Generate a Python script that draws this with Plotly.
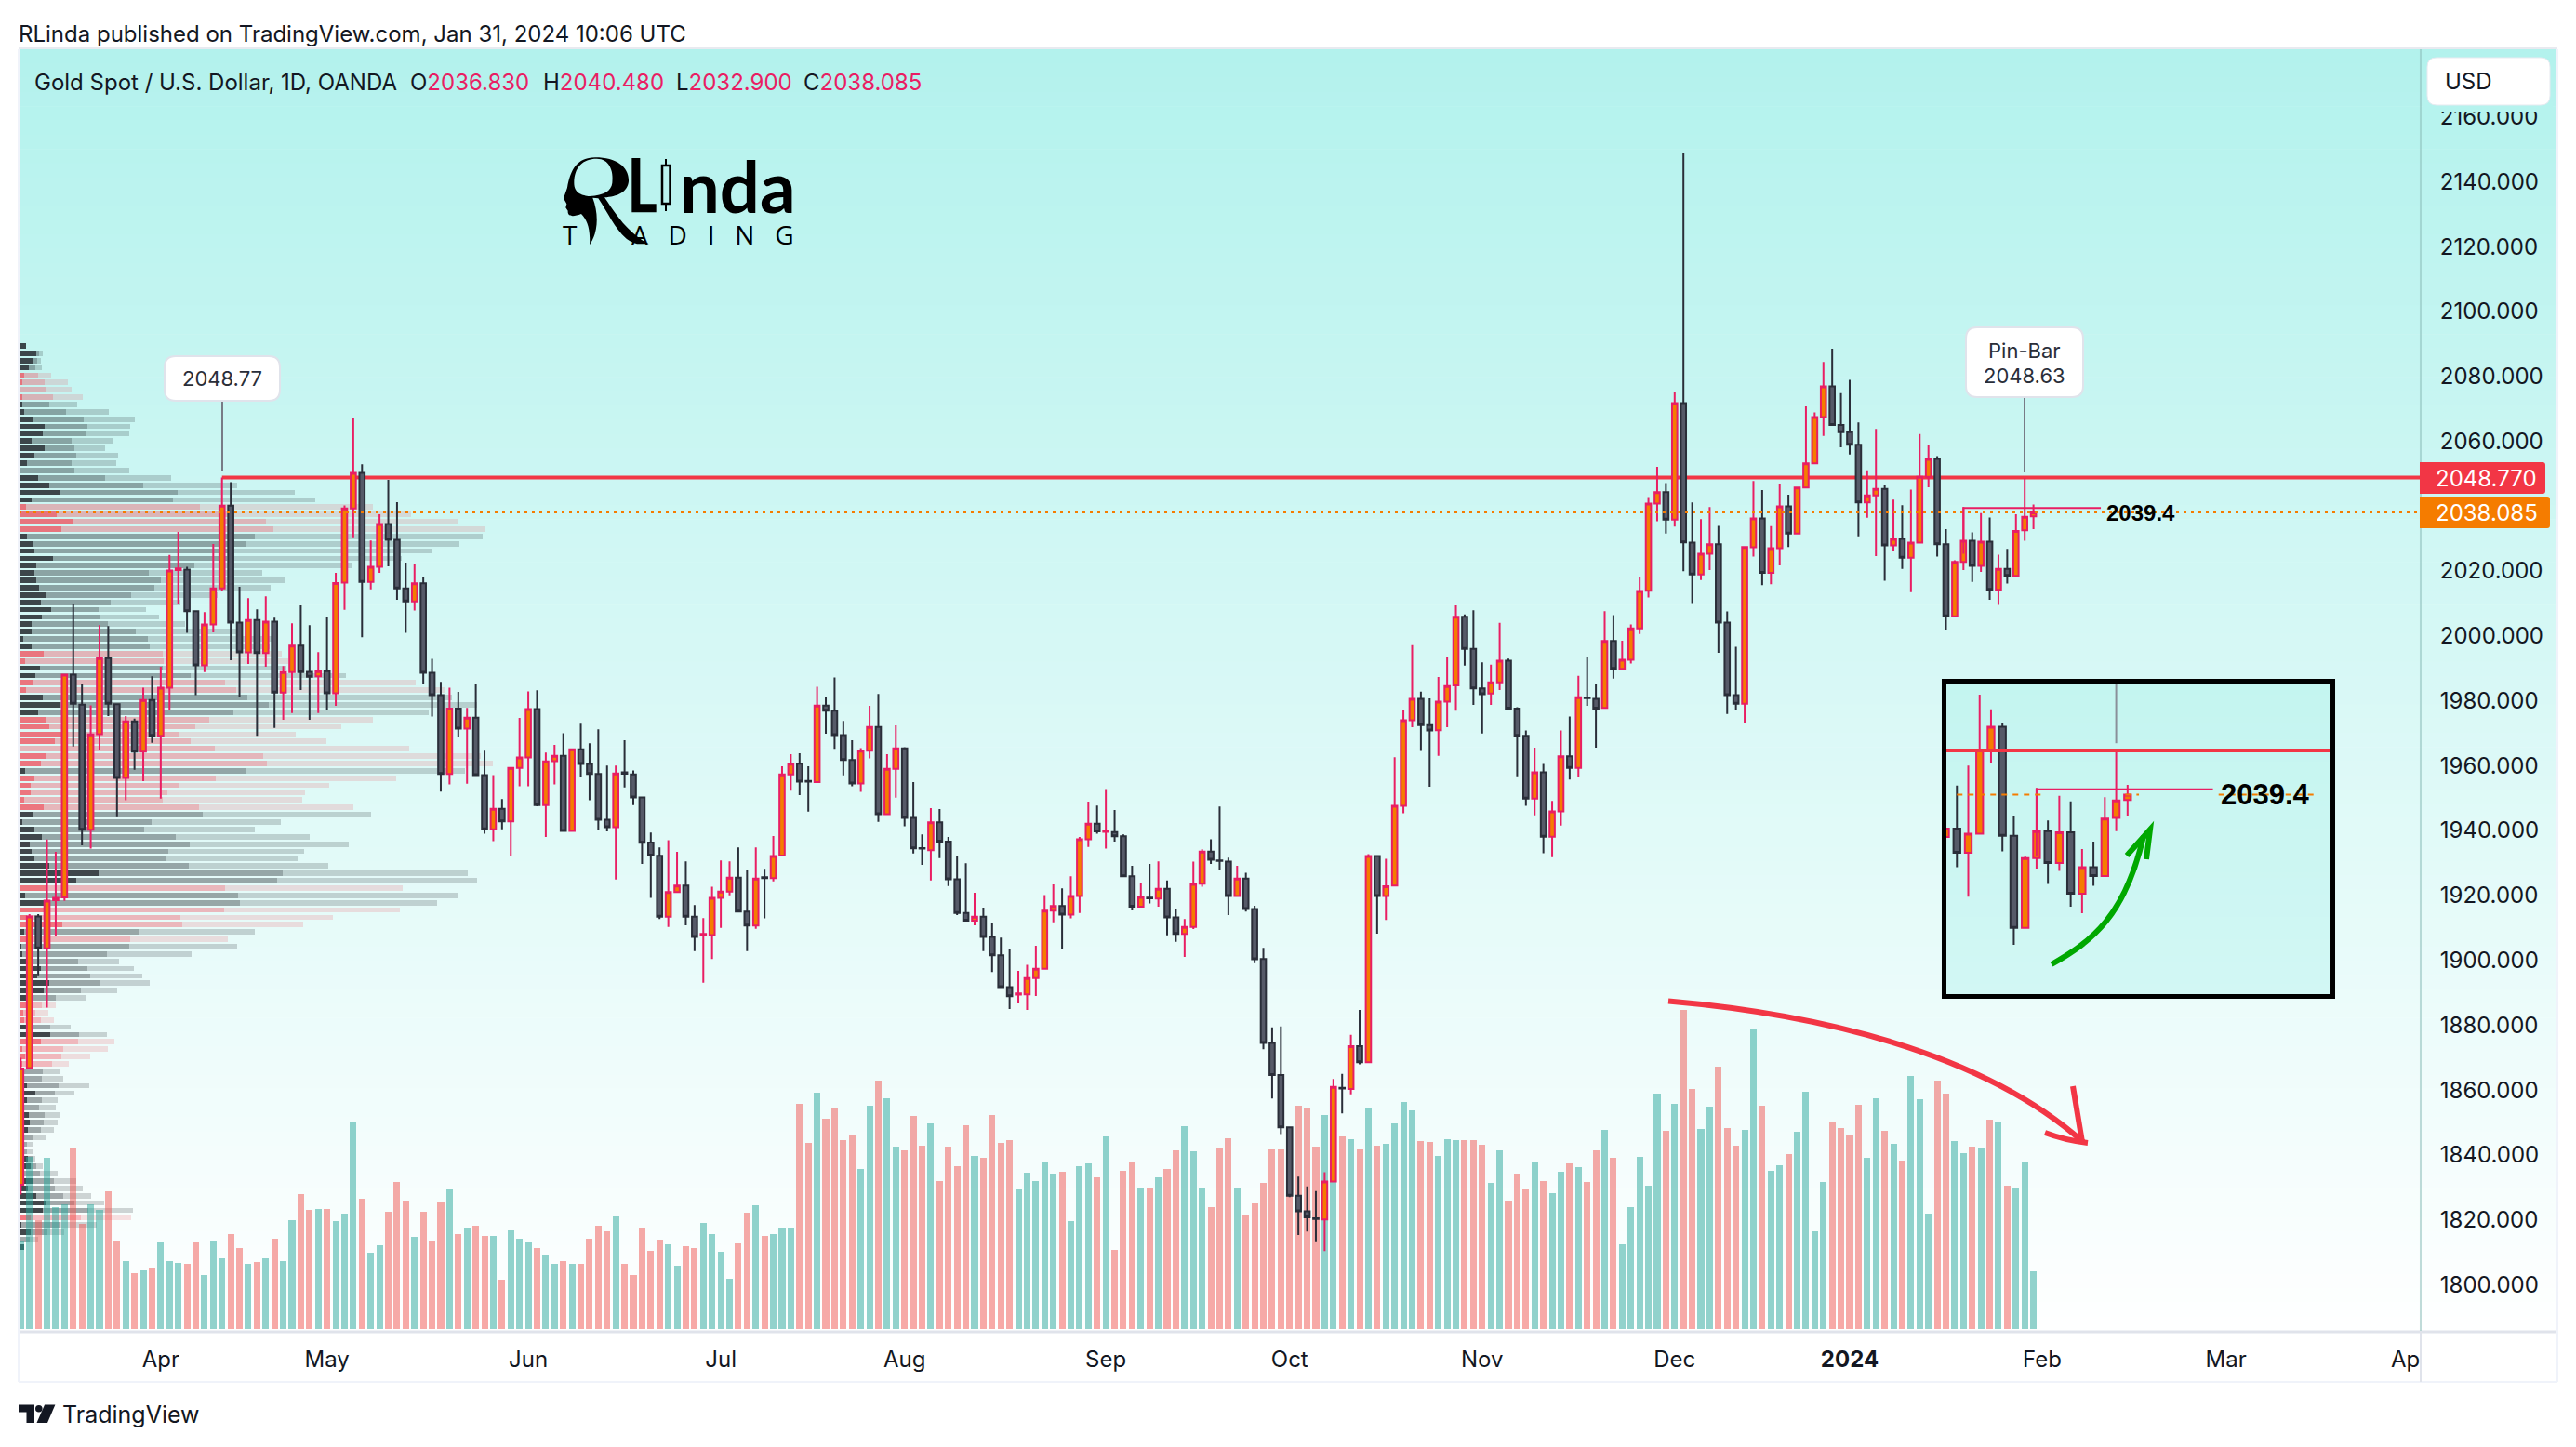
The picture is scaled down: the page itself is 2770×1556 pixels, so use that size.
import plotly.graph_objects as go

# ---------- price data ----------
open_ = [1830.8,1866.8,1913.5,1903.7,1918.5,1919.4,1988.0,1978.8,1940.2,1969.7,
1993.1,1978.9,1956.2,1973.6,1964.3,1980.2,1969.2,1984.0,2020.3,2020.4,
2007.6,1990.9,2003.5,2014.6,2040.1,2004.1,1994.9,2004.9,1994.7,2004.4,
1982.5,1988.8,1997.0,1988.9,1987.5,1989.1,1982.3,2016.4,2039.3,2050.2,
2016.6,2021.3,2034.5,2029.6,2014.6,2010.6,2016.2,1988.6,1981.7,1957.4,
1977.6,1971.4,1974.8,1957.1,1940.4,1946.7,1942.8,1959.3,1962.5,1977.4,
1947.8,1961.4,1963.0,1939.9,1965.0,1960.5,1957.4,1943.3,1941.0,1957.9,
1957.3,1950.2,1936.3,1932.2,1913.4,1921.0,1923.0,1913.4,1907.7,1907.8,
1919.2,1921.2,1925.5,1915.0,1910.7,1925.6,1925.3,1932.3,1957.3,1960.6,
1955.3,1954.9,1978.5,1976.9,1969.4,1961.7,1954.5,1964.6,1971.9,1945.0,
1959.0,1965.3,1943.9,1934.6,1933.9,1942.5,1936.6,1925.0,1914.6,1912.2,
1913.4,1907.2,1901.5,1891.7,1889.4,1889.5,1894.5,1897.4,1915.3,1916.7,
1914.1,1919.8,1937.3,1942.1,1939.6,1939.5,1938.2,1925.9,1916.5,1919.3,
1919.0,1922.0,1913.2,1908.1,1910.3,1923.6,1933.5,1930.8,1930.4,1919.8,
1925.2,1915.8,1900.4,1874.5,1864.6,1848.5,1827.4,1822.6,1820.5,1820.1,
1831.8,1860.7,1860.3,1873.5,1868.6,1932.1,1919.8,1923.0,1947.6,1974.0,
1980.6,1972.5,1970.9,1979.7,1984.7,2005.9,1996.0,1983.8,1982.2,1985.7,
1992.3,1977.6,1969.2,1949.8,1957.9,1938.1,1945.9,1962.9,1959.3,1981.0,
1980.6,1977.8,1998.4,1989.8,1992.6,2002.3,2013.9,2040.8,2044.3,2035.8,
2071.7,2028.7,2018.9,2025.3,2028.2,2004.1,1981.7,1979.1,2027.3,2036.2,
2019.4,2027.0,2039.9,2031.5,2045.7,2053.2,2067.4,2076.9,2065.0,2062.8,
2058.9,2041.1,2043.3,2045.3,2027.9,2029.9,2024.1,2028.7,2049.0,2054.5,
2028.2,2006.0,2022.8,2029.3,2021.6,2029.0,2014.2,2020.6,2018.5,2032.5,2036.83]
close_ = [1866.6,1913.5,1903.7,1918.4,1919.2,1988.0,1979.1,1940.2,1969.6,1993.1,
1979.1,1956.2,1973.6,1964.3,1980.2,1969.2,1984.0,2020.1,2020.8,2007.6,
1990.9,2003.5,2014.6,2040.1,2004.1,1994.9,2004.9,1994.7,2004.4,1982.5,
1988.8,1997.0,1988.8,1987.4,1989.1,1982.3,2016.3,2039.3,2050.2,2016.6,
2021.3,2034.5,2029.6,2014.6,2010.6,2016.2,1988.6,1981.7,1957.4,1977.6,
1971.4,1974.8,1957.1,1940.4,1946.7,1942.8,1959.3,1962.5,1977.4,1947.8,
1961.3,1963.0,1939.9,1965.0,1960.5,1957.4,1943.3,1941.0,1957.6,1957.5,
1950.2,1936.2,1932.3,1913.4,1921.0,1923.0,1913.4,1907.2,1908.1,1919.2,
1921.2,1925.5,1915.0,1910.7,1925.2,1925.3,1932.1,1957.3,1960.6,1955.1,
1955.1,1978.5,1976.9,1969.4,1961.7,1954.5,1964.6,1971.9,1945.0,1959.0,
1965.3,1943.9,1934.5,1934.4,1942.5,1936.6,1925.0,1914.6,1912.2,1913.4,
1907.2,1901.5,1891.7,1888.9,1889.8,1894.5,1897.4,1915.3,1916.7,1914.1,
1919.8,1937.3,1942.1,1939.7,1939.8,1938.2,1925.9,1916.5,1919.5,1919.1,
1922.0,1913.2,1908.1,1910.3,1923.5,1933.5,1931.0,1930.6,1919.8,1925.2,
1915.8,1900.3,1874.5,1864.6,1848.5,1827.4,1822.6,1820.8,1820.3,1831.8,
1861.0,1860.5,1873.5,1868.6,1932.1,1919.8,1922.8,1947.6,1974.0,1980.6,
1972.5,1970.8,1979.7,1984.5,2005.9,1996.0,1983.8,1982.0,1985.7,1992.3,
1977.6,1969.2,1949.8,1957.9,1938.1,1945.9,1962.9,1959.3,1981.1,1980.8,
1977.6,1998.4,1989.8,1992.6,2002.3,2013.8,2040.8,2044.3,2035.8,2071.7,
2028.8,2018.9,2025.3,2028.2,2004.1,1981.7,1979.1,2027.4,2036.2,2019.4,
2027.0,2039.9,2031.5,2045.7,2053.2,2067.4,2076.9,2065.0,2062.8,2058.9,
2041.1,2043.3,2045.3,2027.9,2029.9,2024.1,2028.7,2049.0,2054.5,2028.2,
2006.0,2022.8,2029.3,2021.6,2029.0,2014.2,2020.6,2018.5,2032.3,2036.7,2038.085]
high_ = [1869.9,1914.2,1914.2,1937.2,1933.4,1988.2,2009.7,1985.0,1978.6,2003.3,
2003.0,1978.9,1975.3,1974.5,1984.0,1987.5,1990.5,2024.9,2032.0,2021.3,
2007.6,2007.3,2028.3,2048.77,2047.4,2015.1,2011.6,2008.2,2012.2,2005.6,
1990.7,2003.9,2009.4,2003.3,1995.0,2005.8,2019.4,2040.2,2067.0,2052.9,
2029.4,2037.5,2048.1,2041.2,2022.6,2022.0,2018.3,1992.9,1985.8,1984.0,
1982.7,1977.8,1985.3,1964.6,1957.1,1949.7,1959.5,1974.7,1982.9,1983.2,
1964.0,1966.4,1970.0,1965.2,1972.9,1966.9,1971.2,1960.0,1960.0,1967.8,
1958.5,1950.4,1939.4,1934.8,1937.0,1933.4,1930.5,1917.0,1913.0,1922.7,
1930.8,1930.5,1934.8,1927.7,1934.8,1928.2,1938.3,1959.8,1963.5,1963.8,
1959.8,1984.3,1981.0,1987.2,1973.8,1967.8,1965.4,1978.4,1982.1,1963.5,
1972.4,1965.7,1954.9,1938.8,1946.9,1946.6,1938.0,1932.3,1929.9,1920.8,
1916.2,1911.6,1907.0,1903.3,1896.7,1898.6,1904.5,1920.1,1923.4,1922.2,
1925.9,1938.0,1948.9,1947.7,1952.8,1946.3,1938.8,1929.1,1923.7,1929.7,
1930.5,1924.6,1915.7,1912.7,1930.4,1934.2,1937.3,1947.4,1931.6,1929.1,
1927.0,1916.8,1903.8,1879.3,1879.6,1848.7,1833.3,1830.3,1828.9,1834.7,
1863.4,1865.0,1877.0,1884.7,1932.7,1932.1,1931.3,1962.6,1977.3,1997.1,
1982.8,1980.7,1987.3,1993.3,2009.4,2006.6,2007.9,1991.8,1991.1,2004.0,
1993.0,1978.0,1970.8,1965.5,1960.5,1949.1,1970.8,1975.1,1987.7,1993.3,
1985.2,2007.6,2006.4,1998.5,2003.5,2018.3,2042.8,2052.1,2047.1,2075.3,
2149.0,2041.1,2036.0,2039.7,2033.9,2007.5,1996.6,2027.4,2047.7,2044.9,
2033.8,2046.9,2043.5,2045.9,2070.7,2068.9,2084.4,2088.5,2074.8,2078.9,
2065.8,2051.0,2063.8,2046.6,2042.0,2040.3,2045.1,2062.2,2058.7,2055.4,
2032.9,2023.3,2039.7,2031.9,2037.8,2036.5,2025.0,2026.8,2037.5,2048.63,2040.48]
low_ = [1827.8,1866.5,1895.4,1885.4,1907.6,1918.3,1965.9,1935.4,1934.4,1964.7,
1975.3,1944.1,1949.3,1958.7,1955.2,1967.0,1949.8,1977.0,2009.9,2000.9,
1981.7,1988.8,2001.1,2014.0,1992.5,1981.0,1991.3,1969.2,1990.5,1971.6,
1974.1,1976.2,1983.3,1974.1,1976.2,1977.0,1978.4,2008.0,2030.4,1999.6,
2014.3,2019.4,2021.4,2011.1,2000.9,2007.8,1985.3,1975.1,1952.0,1954.2,
1968.8,1954.4,1956.8,1939.0,1936.7,1940.4,1932.1,1953.6,1953.6,1947.5,
1938.0,1954.2,1939.9,1939.9,1956.6,1949.3,1940.1,1939.7,1924.9,1953.3,
1947.8,1929.7,1919.2,1912.7,1910.3,1921.0,1910.8,1902.8,1893.1,1900.4,
1910.0,1920.0,1915.0,1902.8,1909.7,1912.9,1924.3,1932.3,1952.3,1950.9,
1945.8,1954.9,1969.8,1965.2,1957.0,1953.6,1951.9,1962.2,1942.7,1945.0,
1950.1,1941.3,1932.9,1929.4,1924.6,1931.5,1922.9,1913.9,1912.2,1910.8,
1902.8,1896.4,1891.7,1885.0,1886.7,1884.7,1889.0,1897.4,1911.7,1903.6,
1912.9,1914.6,1934.9,1939.0,1934.4,1936.6,1925.6,1915.4,1916.5,1917.5,
1916.5,1907.7,1905.7,1901.0,1909.6,1922.7,1929.7,1928.0,1913.9,1919.8,
1915.0,1899.1,1872.6,1857.4,1846.4,1827.0,1815.3,1816.4,1813.1,1810.4,
1831.8,1852.8,1858.7,1867.9,1868.6,1908.2,1912.4,1923.0,1945.3,1971.8,
1964.5,1953.5,1963.0,1971.8,1976.9,1990.8,1978.7,1969.9,1978.7,1983.3,
1977.6,1956.7,1947.6,1944.7,1933.0,1931.8,1941.5,1955.7,1956.4,1978.4,
1965.5,1977.8,1986.8,1989.8,1991.5,2000.6,2011.8,2035.3,2031.5,2033.7,
2019.9,2010.1,2017.2,2020.3,1994.8,1975.9,1977.3,1973.0,2024.4,2015.6,
2015.9,2021.7,2027.4,2031.5,2045.7,2053.2,2061.6,2064.7,2058.1,2055.9,
2030.7,2036.4,2024.6,2017.0,2026.1,2020.6,2013.5,2028.7,2045.8,2024.4,
2001.9,2006.0,2020.3,2016.6,2019.7,2011.1,2009.5,2016.1,2018.5,2029.3,2032.9]
volume = [94,185,117,184,131,134,194,113,134,128,148,94,73,60,63,65,93,73,71,70,
93,58,94,76,102,87,70,72,76,97,73,117,145,128,129,129,116,124,223,140,
82,90,126,158,138,99,126,95,136,150,102,109,111,100,100,53,106,97,93,87,
80,70,73,70,70,97,111,105,121,70,58,109,84,96,91,68,89,87,114,102,
83,54,92,125,133,100,102,108,109,242,200,254,226,238,203,208,172,240,267,248,
196,192,229,197,221,159,196,175,219,186,184,230,200,203,150,168,159,179,167,169,
116,175,178,163,207,85,170,179,151,151,163,172,192,218,191,151,131,194,205,152,
123,135,157,193,193,170,240,237,196,230,160,207,204,193,237,197,199,221,244,235,
202,201,186,204,203,203,203,198,157,192,138,167,150,179,159,146,169,178,174,158,
192,214,184,91,131,185,154,253,213,242,343,258,215,239,282,216,197,214,322,240,
170,176,188,212,255,105,158,222,216,208,241,184,248,213,199,181,272,247,124,267,
253,202,189,196,194,225,223,154,151,179,62]

# ---------- volume profile (cumulative widths per row, top row first) ----------
profile_dark = [1]*25 + [8,19,16,11,6,4,1,4,4,6,15,28,26,14,28,17,9,0,21,33,45,14,8,41,59,46,9,15,17,37,19,17,19,22,29,24,35,25,14,14,5,14,27,7,23,18,16,8,26,44,21,30,33,47,39,2,29,24,7,17,13,13,6,27,16,4,17,25,12,14,17,33,86,62,30,7,29,29,9,47,6,9,3,4,9,24,20,33,27,9,9,5,6,9,34,24,4,7,4,4,4,9,18,9,4,11,12,10,4,4,4,10,13,6,15,10,19,29,26,13,3,13,1,6]
profile_mid = [1]*25 + [8,22,20,18,21,28,30,37,33,51,70,74,72,57,60,62,57,60,93,134,171,166,195,231,266,274,254,245,230,224,189,140,153,146,121,99,86,88,96,126,139,141,155,156,155,185,222,234,246,269,231,205,190,172,185,211,263,267,244,212,173,160,155,194,198,143,135,169,184,161,159,183,284,278,222,236,238,221,174,176,130,120,119,95,64,74,77,87,67,40,25,18,24,34,65,64,48,46,36,26,25,43,39,25,22,28,27,24,16,9,9,15,19,23,38,39,48,60,75,67,44,31,12,6]
profile_light = [1]*25 + [8,26,24,25,35,53,57,69,63,97,125,120,119,101,93,107,105,119,164,235,297,319,381,422,473,502,499,474,444,412,359,262,286,271,214,174,137,151,179,238,275,270,283,290,288,352,427,459,466,493,441,381,347,298,331,420,497,510,480,406,334,308,305,360,379,282,254,313,355,307,300,333,483,493,413,473,450,410,338,306,254,225,235,186,108,124,133,141,106,72,40,32,38,56,95,103,96,77,54,44,48,76,60,42,40,45,42,38,30,16,15,18,26,42,62,69,78,92,123,121,84,49,21,6]
profile_side = list("R"*25 + "GGGGRRRRGGGGGGGGGGGGGGRRRRGGGGGGGGGGGGGGGGRRGGRRGGGRRRRRRRGRRRRRGGGGGGGGGGRGGRRRGRGGGGGGGGRRRGGRRRRGGGGGGGGGGGGGGGGGGGGRG")
profile_side += ["G"] * (len(profile_dark) - len(profile_side))
profile_top_price = 2145.82
profile_step = 2.258

# ---------- axes text ----------
price_ticks = [1800,1820,1840,1860,1880,1900,1920,1940,1960,1980,2000,2020,2060,2080,2100,2120,2140,2160]
time_ticks = [16,35,58,80,101,124,145,167,189,209,231,252,272.5]
time_labels = ["Apr","May","Jun","Jul","Aug","Sep","Oct","Nov","Dec","<b>2024</b>","Feb","Mar","Ap"]
level_red = 2048.77
level_last = 2038.085
level_pin = 2039.4

# ---------- layout geometry ----------
W, H = 2770, 1556
PL, PR, PT, PB = 20, 2603, 53, 1431
RE = 2750
TE = 1486
step_px = 9.41
x0_px = 22.3
XR = [(PL - x0_px) / step_px, (PR - x0_px) / step_px]
YR = [1785.8, 2180.8]
INK = "#131722"
UP_LINE, UP_FILL = "#E91E63", "#F57C00"
DN_LINE, DN_FILL = "#2A2E39", "#565A68"
RED = "#F23645"
FONT = "Inter"

fx = lambda p: p / W
fy = lambda p: 1 - p / H
DX = [fx(PL), fx(PR)]
DY = [fy(PB), fy(PT)]

def grad(y):
    t = min(1, max(0, (y - PT) / (PB - PT)))
    a = (179, 242, 237)
    return "rgb(%d,%d,%d)" % tuple(round(a[i] + (255 - a[i]) * t) for i in range(3))

def path(cmds, close=False):
    out = []
    for c in cmds:
        out.append(c[0] + " ".join("%.5f,%.5f" % (fx(x), fy(y)) for x, y in c[1:]))
    return " ".join(out) + (" Z" if close else "")

def poly(pts):
    return path([("M", pts[0])] + [("L", p) for p in pts[1:]])

def rrect(x0, y0, x1, y1, r, left=True):
    rl = r if left else 0
    return path([("M", (x0 + rl, y0)), ("L", (x1 - r, y0)), ("Q", (x1, y0), (x1, y0 + r)),
                 ("L", (x1, y1 - r)), ("Q", (x1, y1), (x1 - r, y1)), ("L", (x0 + rl, y1)),
                 ("Q", (x0, y1), (x0, y1 - rl)), ("L", (x0, y0 + rl)), ("Q", (x0, y0), (x0 + rl, y0))], True)

shapes, annos = [], []

def pshape(d, fill=None, color=None, width=0, layer="above"):
    s = dict(type="path", xref="paper", yref="paper", path=d, layer=layer,
             line=dict(color=color or "rgba(0,0,0,0)", width=width))
    if fill:
        s["fillcolor"] = fill
    shapes.append(s)

def text(x, y, s, size=24, color=INK, font=FONT, anchor="left", va="middle"):
    annos.append(dict(xref="paper", yref="paper", x=fx(x), y=fy(y), text=s, showarrow=False,
                      xanchor=anchor, yanchor=va, font=dict(family=font, size=size, color=color),
                      align="center", borderpad=0, borderwidth=0))

def hline(x0, x1, y, color, width=2):
    pshape(poly([(x0, y), (x1, y)]), color=color, width=width)

# gradient background bands (pane + price scale)
bands = 90
for i in range(bands):
    y0 = PT + (PB - PT) * i / bands
    y1 = PT + (PB - PT) * (i + 1) / bands
    shapes.append(dict(type="rect", xref="paper", yref="paper", layer="below",
                       x0=fx(PL), x1=fx(RE), y0=fy(y0), y1=fy(y1 + 0.6),
                       fillcolor=grad(y0), line=dict(width=0)))

# frame lines
hline(PL, RE, PT - 1, "#E8EAF0", 2)
hline(PL, RE, PB + 1, "#E0E3EB", 3)
hline(PL, RE, TE, "#F0F3FA", 2)
pshape(poly([(PL, PT), (PL, TE)]), color="#F0F3FA", width=2)
pshape(poly([(RE, PT), (RE, TE)]), color="#F0F3FA", width=2)
pshape(poly([(PR, PT), (PR, PB)]), color="rgba(140,190,185,0.55)", width=2)
pshape(poly([(PR, PB), (PR, TE)]), color="#E0E3EB", width=2)

# callouts
pshape(poly([(239, 432), (239, 507)]), color="#787B86", width=2)
pshape(poly([(2177, 428), (2177, 508)]), color="#787B86", width=2)
pshape(rrect(177, 383, 301, 431, 12), fill="#FFFFFF", color="#E0E3EB", width=2)
pshape(rrect(2114, 352, 2240, 427, 12), fill="#FFFFFF", color="#E0E3EB", width=2)
text(239, 407, "2048.77", 22, "#2A2E39", anchor="center")
text(2177, 377, "Pin-Bar", 22, "#2A2E39", anchor="center")
text(2177, 404, "2048.63", 22, "#2A2E39", anchor="center")

# price tags / USD
pshape(rrect(2602, 497, 2737, 531, 3, left=False), fill=RED)
pshape(rrect(2602, 534, 2742, 568, 3, left=False), fill="#F57C00")
text(2619, 514, "2048.770", 24, "#FFFFFF")
text(2619, 551, "2038.085", 24, "#FFFFFF")
pshape(path([("M", (2606, 110)), ("L", (2745, 110)), ("L", (2745, 120)), ("L", (2606, 120))], True), fill=grad(115))
pshape(rrect(2610, 62, 2742, 113, 10), fill="#FFFFFF", color="#E8EAF0", width=1)
text(2629, 87, "USD", 24)

# header texts
text(20, 36, "RLinda published on TradingView.com, Jan 31, 2024 10:06 UTC", 24)
text(37, 89, "Gold Spot / U.S. Dollar, 1D, OANDA", 24)
PINK = "#E91E63"
for x, lab, val in [(441, "O", "2036.830"), (583.5, "H", "2040.480"), (727, "L", "2032.900"), (863.5, "C", "2038.085")]:
    text(x, 89, "%s<span style='color:%s'>%s</span>" % (lab, PINK, val), 24)

# small labels next to levels
text(2265, 551, "<b>2039.4</b>", 24, "#000000", "Liberation Sans")
text(2388, 854, "<b>2039.4</b>", 31, "#000000", "Liberation Sans")

# inset frame
pshape(path([("M", (2090.5, 732.5)), ("L", (2508.5, 732.5)), ("L", (2508.5, 1071.5)), ("L", (2090.5, 1071.5))], True),
       color="#000000", width=5)

# hand-drawn arrows
pshape(path([("M", (2206, 1037)), ("C", (2250, 1012), (2285, 985), (2305, 899))]), color="#00A800", width=6)
pshape(poly([(2287, 920), (2312, 892), (2308, 924)]), color="#00A800", width=6)
pshape(path([("M", (1794, 1076.5)), ("C", (1950, 1090), (2130, 1130), (2240, 1228))]), color=RED, width=6)
pshape(poly([(2229, 1168), (2239, 1228)]), color=RED, width=6)
pshape(path([("M", (2199, 1218)), ("Q", (2220, 1226), (2245, 1229))]), color=RED, width=6)

# logo
lx = lambda d: 560 + d / 3
ly = lambda d: 130 + d / 3
def L(*p):
    return tuple((lx(p[i]), ly(p[i + 1])) for i in range(0, len(p), 2))
outer = [("M",) + L(150, 215), ("C",) + L(160, 160, 180, 118, 240, 118), ("C",) + L(310, 118, 350, 150, 348, 195),
         ("C",) + L(345, 230, 310, 245, 270, 247), ("C",) + L(300, 290, 340, 360, 413, 397), ("L",) + L(375, 397),
         ("C",) + L(320, 385, 290, 310, 250, 250), ("L",) + L(232, 248), ("C",) + L(252, 300, 250, 360, 222, 400),
         ("C",) + L(225, 350, 215, 320, 195, 300), ("C",) + L(170, 310, 150, 310, 152, 290), ("L",) + L(145, 280),
         ("L",) + L(148, 268), ("L",) + L(138, 250)]
inner = [("M",) + L(172, 200), ("C",) + L(172, 150, 200, 122, 245, 122), ("C",) + L(285, 122, 300, 160, 295, 200),
         ("C",) + L(292, 225, 270, 240, 222, 243), ("C",) + L(200, 240, 172, 235, 172, 200)]
pshape(path(outer, True), fill="#000000")
pshape(path(inner, True), fill=grad(180))
pshape(path([("M",) + L(358, 120), ("L",) + L(385, 120), ("L",) + L(385, 268), ("L",) + L(437, 268),
             ("L",) + L(437, 295), ("L",) + L(358, 295)], True), fill="#000000")
pshape(poly([(716, 171), (716, 227)]), color="#000000", width=2)
pshape(path([("M", (712, 178)), ("L", (720.5, 178)), ("L", (720.5, 219)), ("L", (712, 219))], True),
       fill=grad(200), color="#000000", width=2.5)
text(856, 200, "<b>nda</b>", 76, "#000000", "Lato", anchor="right")
text(605, 252, "T", 28, "#000000", "Open Sans")
text(854, 252, "A   D   I   N   G", 28, "#000000", "Open Sans", anchor="right")

# footer logo
pshape(path([("M", (20, 1510.5)), ("L", (37, 1510.5)), ("L", (37, 1530)), ("L", (28.5, 1530)), ("L", (28.5, 1518.5)), ("L", (20, 1518.5))], True), fill=INK)
pshape(path([("M", (48, 1510.5)), ("L", (59.4, 1510.5)), ("L", (51, 1530)), ("L", (39.5, 1530))], True), fill=INK)
shapes.append(dict(type="circle", xref="paper", yref="paper", x0=fx(38), x1=fx(45.6), y0=fy(1518.6), y1=fy(1511),
                   fillcolor=INK, line=dict(width=0)))
text(67, 1521, "TradingView", 25)

# ---------- traces ----------
n = len(close_)
idx = list(range(n))
fig = go.Figure()

# volume profile (xy, main subplot)
levels = [profile_top_price - profile_step * i for i in range(len(profile_dark))]
seg_dark = profile_dark
seg_mid = [m - d for m, d in zip(profile_mid, profile_dark)]
seg_light = [l - m for l, m in zip(profile_light, profile_mid)]
col_dark = ["rgba(40,45,50,0.88)" if s == "G" else "rgba(242,54,69,0.68)" for s in profile_side]
col_mid = ["rgba(40,45,50,0.41)" if s == "G" else "rgba(242,54,69,0.34)" for s in profile_side]
col_light = ["rgba(40,45,50,0.2)" if s == "G" else "rgba(235,60,75,0.16)" for s in profile_side]
for seg, col in [(seg_dark, col_dark), (seg_mid, col_mid), (seg_light, col_light)]:
    fig.add_trace(go.Bar(x=seg, y=levels, orientation="h", width=1.65, marker=dict(color=col, line=dict(width=0)),
                         xaxis="x", yaxis="y", hoverinfo="skip", showlegend=False))

# volume
vol_col = ["rgba(38,166,154,0.5)" if c >= o else "rgba(239,83,80,0.5)" for o, c in zip(open_, close_)]
fig.add_trace(go.Bar(x=idx, y=volume, width=0.75, marker=dict(color=vol_col, line=dict(width=0)),
                     xaxis="x2", yaxis="y2", hoverinfo="skip", showlegend=False))

# red level behind candles
fig.add_trace(go.Scatter(x=[23, XR[1]], y=[level_red, level_red], mode="lines", line=dict(color=RED, width=4),
                         xaxis="x3", yaxis="y3", hoverinfo="skip", showlegend=False))

def candles(ix, ax, ay):
    return go.Candlestick(x=ix, open=[open_[i] for i in ix], high=[high_[i] for i in ix],
                          low=[low_[i] for i in ix], close=[close_[i] for i in ix],
                          increasing=dict(line=dict(color=UP_LINE, width=2), fillcolor=UP_FILL),
                          decreasing=dict(line=dict(color=DN_LINE, width=2), fillcolor=DN_FILL),
                          whiskerwidth=0, xaxis=ax, yaxis=ay, hoverinfo="skip", showlegend=False)

fig.add_trace(candles(idx, "x4", "y4"))
fig.add_trace(go.Scatter(x=[XR[0], XR[1]], y=[level_last, level_last], mode="lines",
                         line=dict(color="#F57C00", width=2, dash="3px,5px"),
                         xaxis="x4", yaxis="y4", hoverinfo="skip", showlegend=False))
fig.add_trace(go.Scatter(x=[222, 222, 237.7], y=[low_[222] + 5, level_pin, level_pin], mode="lines",
                         line=dict(color=UP_LINE, width=2), xaxis="x4", yaxis="y4", hoverinfo="skip", showlegend=False))

# inset
IXR = [214.08, 247.83]
IYR = [1990.0, 2064.9]
fig.add_trace(go.Heatmap(x=IXR, y=IYR, z=[[1, 1], [0, 0]], zsmooth="best", showscale=False,
                         colorscale=[[0, "#C4F5F0"], [1, "#D2F7F4"]], xaxis="x5", yaxis="y5", hoverinfo="skip"))
fig.add_trace(candles(idx[214:], "x5", "y5"))
fig.add_trace(go.Scatter(x=IXR, y=[level_red, level_red], mode="lines", line=dict(color=RED, width=4),
                         xaxis="x5", yaxis="y5", hoverinfo="skip", showlegend=False))
fig.add_trace(go.Scatter(x=[222, 222, 237.5], y=[low_[222] + 3, level_pin, level_pin], mode="lines",
                         line=dict(color=UP_LINE, width=2), xaxis="x5", yaxis="y5", hoverinfo="skip", showlegend=False))
fig.add_trace(go.Scatter(x=[229, 229], y=[IYR[1], 2050.5], mode="lines", line=dict(color="#8A8F99", width=2),
                         xaxis="x5", yaxis="y5", hoverinfo="skip", showlegend=False))
fig.add_trace(go.Scatter(x=[215.0, 222.5, None, 229.8, 231, None, 238, 246.6],
                         y=[level_last, level_last, None, level_last, level_last, None, level_last, level_last],
                         mode="lines", line=dict(color="#F57C00", width=2, dash="6px,6px"),
                         xaxis="x5", yaxis="y5", hoverinfo="skip", showlegend=False))

hidden = dict(visible=False, showgrid=False, zeroline=False, fixedrange=True)
fig.update_layout(
    width=W, height=H, margin=dict(l=0, r=0, t=0, b=0, pad=0), autosize=False,
    paper_bgcolor="#FFFFFF", plot_bgcolor="rgba(0,0,0,0)", showlegend=False,
    barmode="stack", boxgap=0.4, boxgroupgap=0, hovermode=False,
    font=dict(family=FONT, size=24, color=INK),
    xaxis=dict(hidden, domain=DX, range=[0, PR - PL], anchor="y"),
    yaxis=dict(domain=DY, range=YR, anchor="x", side="right", showgrid=False, zeroline=False, fixedrange=True,
               tickmode="array", tickvals=price_ticks, ticktext=["%d.000" % v for v in price_ticks],
               ticks="outside", ticklen=15, tickcolor="rgba(0,0,0,0)", showline=False,
               tickfont=dict(family=FONT, size=24, color=INK)),
    xaxis2=dict(domain=DX, range=XR, overlaying="x", anchor="y2", side="bottom", showgrid=False, zeroline=False,
                fixedrange=True, tickmode="array", tickvals=time_ticks, ticktext=time_labels,
                ticks="outside", ticklen=9, tickcolor="rgba(0,0,0,0)", showline=False,
                tickfont=dict(family=FONT, size=24, color=INK)),
    yaxis2=dict(hidden, domain=DY, range=[-2, PB - PT - 2], overlaying="y", anchor="x2"),
    xaxis3=dict(hidden, domain=DX, range=XR, overlaying="x", anchor="y3"),
    yaxis3=dict(hidden, domain=DY, range=YR, overlaying="y", anchor="x3"),
    xaxis4=dict(hidden, domain=DX, range=XR, overlaying="x", anchor="y4", rangeslider=dict(visible=False)),
    yaxis4=dict(hidden, domain=DY, range=YR, overlaying="y", anchor="x4"),
    xaxis5=dict(hidden, domain=[fx(2093), fx(2506)], range=IXR, anchor="y5", rangeslider=dict(visible=False)),
    yaxis5=dict(hidden, domain=[fy(1069), fy(735)], range=IYR, anchor="x5"),
    shapes=shapes, annotations=annos,
)
fig.write_html("out.html", config=dict(displayModeBar=False),
               post_script="document.body.style.margin='0';document.body.style.overflow='hidden';")
